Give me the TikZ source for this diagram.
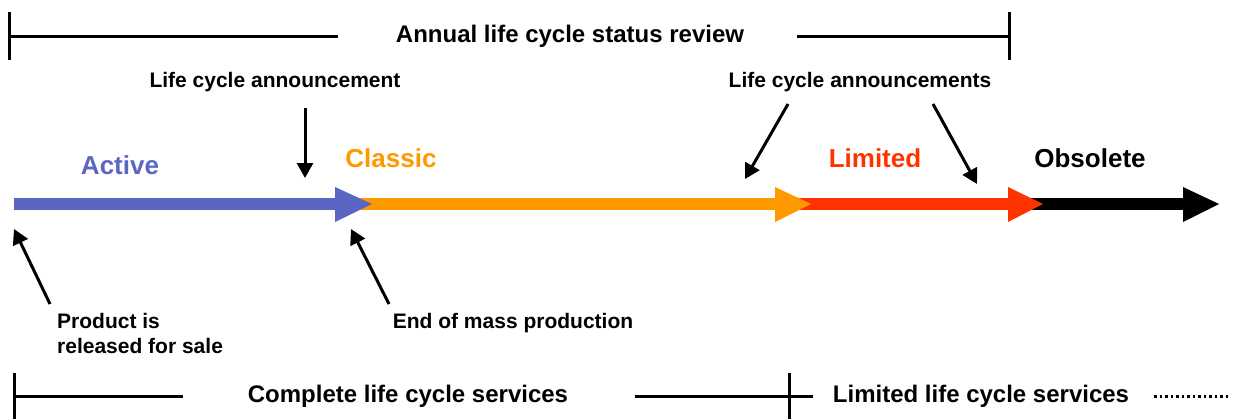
\documentclass[tikz,border=0pt]{standalone}
\usepackage{fontspec}
\setmainfont{Liberation Sans}
\usetikzlibrary{arrows.meta}
\definecolor{cActive}{RGB}{91,102,196}
\definecolor{cClassic}{RGB}{255,153,0}
\definecolor{cLimited}{RGB}{255,51,0}
\begin{document}
\begin{tikzpicture}[x=1bp,y=-1bp,
  lbl/.style={inner sep=0pt,font=\bfseries\fontsize{21bp}{25bp}\selectfont},
  big/.style={inner sep=0pt,font=\bfseries\fontsize{24bp}{28bp}\selectfont},
  stagelbl/.style={inner sep=0pt,font=\bfseries\fontsize{26bp}{30bp}\selectfont},
  bar/.style={line width=3bp},
  pointer/.style={line width=3bp,-{Triangle[length=15bp,width=16bp]}}]
\useasboundingbox (0,0) rectangle (1241,419);
% top bracket
\node[big] (review) at (570,36) {Annual life cycle status review};
\coordinate (tl) at (9,36);
\coordinate (tr) at (1009,36);
\draw[bar] (9,12) -- (9,60);
\draw[bar] (1009,12) -- (1009,60);
\draw[bar] (tl) -- (338,36);
\draw[bar] (797,36) -- (tr);
% announcement labels
\node[lbl] (ann1) at (275,82) {Life cycle announcement};
\node[lbl] (ann2) at (860,82) {Life cycle announcements};
% timeline (drawn back to front)
\fill[black] (1005,198) rectangle (1183,210);
\fill[black] (1183,187) -- (1219,204) -- (1183,222) -- cycle;
\fill[cLimited] (772,198) rectangle (1008,210);
\fill[cLimited] (1008,187) -- (1043,204) -- (1008,222) -- cycle;
\fill[cClassic] (312,198) rectangle (775,210);
\fill[cClassic] (775,187) -- (811,204) -- (775,222) -- cycle;
\fill[cActive] (14,198) rectangle (335,210);
\fill[cActive] (335,187) -- (372,204) -- (335,222) -- cycle;
% stage labels
\node[stagelbl,text=cActive] (active) at (120,165) {Active};
\node[stagelbl,text=cClassic] (classic) at (391,158) {Classic};
\node[stagelbl,text=cLimited] (limited) at (875,158) {Limited};
\node[stagelbl] (obsolete) at (1090,158) {Obsolete};
% announcement pointers
\coordinate (a1s) at (305,108); \coordinate (a1e) at (305,178);
\coordinate (a2s) at (788,104); \coordinate (a2e) at (745,179);
\coordinate (a3s) at (933,104); \coordinate (a3e) at (977,184);
\draw[pointer] (a1s) -- (a1e);
\draw[pointer] (a2s) -- (a2e);
\draw[pointer] (a3s) -- (a3e);
% bottom pointers
\coordinate (p1s) at (50,304); \coordinate (p1e) at (14,229);
\coordinate (p2s) at (389,304); \coordinate (p2e) at (351,229);
\draw[pointer] (p1s) -- (p1e);
\draw[pointer] (p2s) -- (p2e);
\node[lbl,align=left,anchor=north west] (release) at (57,313) {Product is\\released for sale};
\node[lbl] (eomp) at (513,323) {End of mass production};
% bottom brackets
\node[big] (complete) at (408,396) {Complete life cycle services};
\node[big] (limsvc) at (981,396) {Limited life cycle services};
\coordinate (bl) at (14,396);
\coordinate (bm) at (789,396);
\draw[bar] (14,373) -- (14,419);
\draw[bar] (789,373) -- (789,419);
\draw[bar] (bl) -- (183,396);
\draw[bar] (635,396) -- (813,396);
\draw[line width=3bp,dash pattern=on 2.5bp off 3bp] (1154,396) -- (1231,396);
\end{tikzpicture}
\end{document}
